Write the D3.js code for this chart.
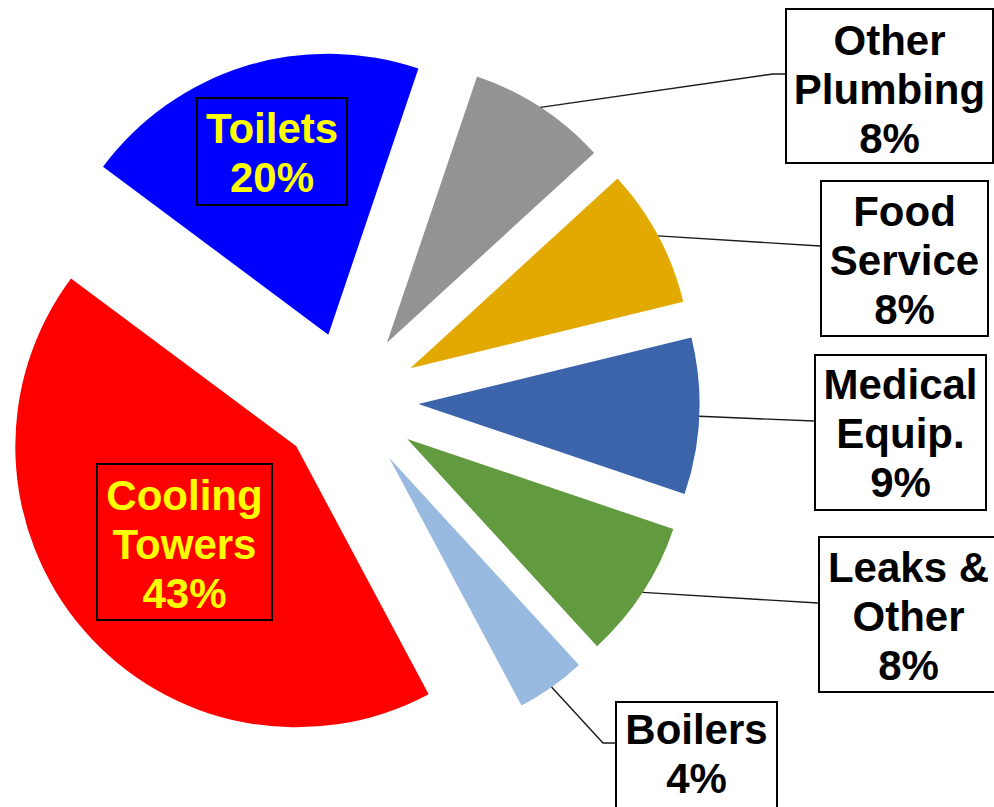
<!DOCTYPE html>
<html>
<head>
<meta charset="utf-8">
<script src="https://cdnjs.cloudflare.com/ajax/libs/d3/7.8.5/d3.min.js"></script>
<style>
body { margin: 0; background: #fff; }
svg { display: block; }
text { font-family: "Liberation Sans", Arial, sans-serif; font-weight: bold; font-size: 42px; }
</style>
</head>
<body>
<svg></svg>
<script>
// slices, clockwise starting at Toilets
var categories = ["Toilets", "Other Plumbing", "Food Service", "Medical Equip.", "Leaks & Other", "Boilers", "Cooling Towers"];
var values = [20, 8, 8, 9, 8, 4, 43];
var labelLines = [["Toilets"], ["Other", "Plumbing"], ["Food", "Service"], ["Medical", "Equip."], ["Leaks &", "Other"], ["Boilers"], ["Cooling", "Towers"]];
var colors = ["#0000ff", "#939393", "#e2aa00", "#3b64ab", "#629a3f", "#98b9e0", "#ff0000"];

var width = 994, height = 807;
var cx = 349, cy = 401, radius = 281, explode = 69.5;
var lineH = 49;

// label boxes (inside ones sit on their slice, others get a leader line)
var boxes = [
  {x: 197, y: 98, w: 150, h: 107, inside: true, ty: 45},
  {x: 786, y: 9, w: 207, h: 154, anchor: 65, elbow: 13, ty: 46},
  {x: 821, y: 181, w: 167, h: 155, anchor: 65, elbow: 1, ty: 45},
  {x: 815, y: 355, w: 171, h: 155, anchor: 66, elbow: 1, ty: 44},
  {x: 819, y: 537, w: 179, h: 155, anchor: 66, elbow: 1, ty: 45},
  {x: 616, y: 702, w: 161, h: 107, anchor: 41, elbow: 13, ty: 42},
  {x: 97, y: 464, w: 175, h: 156, inside: true, ty: 46}
];

var svg = d3.select("svg")
  .attr("width", width)
  .attr("height", height);

var pie = d3.pie()
  .sort(null)
  .value(function(d){ return d; })
  .startAngle(-53.3 * Math.PI / 180)
  .endAngle(-53.3 * Math.PI / 180 + 2 * Math.PI);

var arcs = pie(values);

var arc = d3.arc().innerRadius(0).outerRadius(radius);
// used only to find the outer edge point at the middle of each exploded slice
var edgeArc = d3.arc().innerRadius(radius + explode).outerRadius(radius + explode);

var g = svg.append("g")
  .attr("transform", "translate(" + cx + "," + cy + ")");

g.selectAll("path.slice")
  .data(arcs)
  .enter()
  .append("path")
  .attr("class", "slice")
  .attr("d", arc)
  .attr("fill", function(d, i){ return colors[i]; })
  .attr("transform", function(d){
    var a = (d.startAngle + d.endAngle) / 2;
    return "translate(" + (Math.sin(a) * explode) + "," + (-Math.cos(a) * explode) + ")";
  });

//leader lines
g.selectAll("path.leader")
  .data(arcs.filter(function(d){ return !boxes[d.index].inside; }))
  .enter()
  .append("path")
  .attr("class", "leader")
  .attr("fill", "none")
  .attr("stroke", "#1a1a1a")
  .attr("stroke-width", 1.4)
  .attr("d", function(d){
    var b = boxes[d.index];
    var p = edgeArc.centroid(d);
    var ey = b.y + b.anchor - cy;
    return "M" + p[0] + "," + p[1] + "L" + (b.x - b.elbow - cx) + "," + ey + "L" + (b.x - cx) + "," + ey;
  });

//label boxes
var labels = svg.selectAll("g.label")
  .data(arcs)
  .enter()
  .append("g")
  .attr("class", "label");

labels.append("rect")
  .attr("x", function(d){ return boxes[d.index].x; })
  .attr("y", function(d){ return boxes[d.index].y; })
  .attr("width", function(d){ return boxes[d.index].w; })
  .attr("height", function(d){ return boxes[d.index].h; })
  .attr("fill", function(d){ return boxes[d.index].inside ? "none" : "#fff"; })
  .attr("stroke", "#000")
  .attr("stroke-width", 2);

labels.each(function(d){
  var b = boxes[d.index];
  var lines = labelLines[d.index].concat([values[d.index] + "%"]);
  d3.select(this).selectAll("text")
    .data(lines)
    .enter()
    .append("text")
    .attr("x", b.x + b.w / 2)
    .attr("y", function(t, j){ return b.y + b.ty + j * lineH; })
    .attr("text-anchor", "middle")
    .attr("fill", b.inside ? "#ffff00" : "#000")
    .text(function(t){ return t; });
});
</script>
</body>
</html>
